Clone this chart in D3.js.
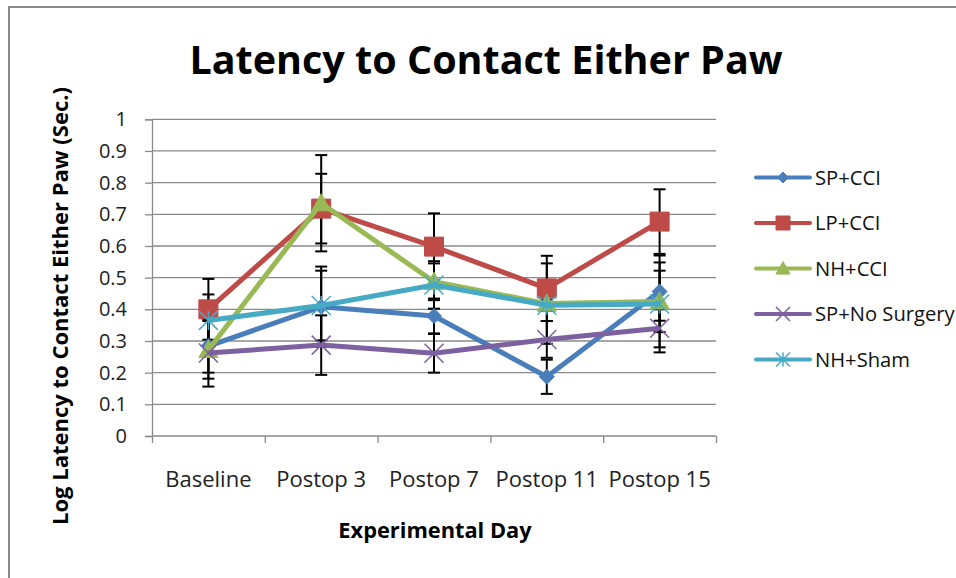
<!DOCTYPE html>
<html>
<head>
<meta charset="utf-8">
<script src="https://cdn.jsdelivr.net/npm/d3@7/dist/d3.min.js"></script>
<style>
  body { margin: 0; background: #fff; }
  svg { display: block; font-family: "Open Sans", Lato, sans-serif; }
</style>
</head>
<body>
<svg id="chart"></svg>
<script>
// Data
const categories = ['Baseline', 'Postop 3', 'Postop 7', 'Postop 11', 'Postop 15'];
const yTicks = [0, 0.1, 0.2, 0.3, 0.4, 0.5, 0.6, 0.7, 0.8, 0.9, 1];

const spCci = [0.284, 0.408, 0.379, 0.187, 0.456];
const spCciErr = [0.084, 0.127, 0.055, 0.054, 0.092];
const lpCci = [0.400, 0.718, 0.598, 0.466, 0.677];
const lpCciErr = [0.096, 0.110, 0.105, 0.103, 0.102];
const nhCci = [0.272, 0.735, 0.487, 0.418, 0.425];
const nhCciErr = [0.091, 0.152, 0.058, 0.127, 0.097];
const spNoSurgery = [0.262, 0.287, 0.261, 0.305, 0.340];
const spNoSurgeryErr = [0.106, 0.094, 0.061, 0.058, 0.060];
const nhSham = [0.365, 0.412, 0.477, 0.413, 0.417];
const nhShamErr = [0.082, 0.110, 0.075, 0.018, 0.153];

const seriesNames = ['SP+CCI', 'LP+CCI', 'NH+CCI', 'SP+No Surgery', 'NH+Sham'];

class LatencyChart {
    constructor(id) {
        this.svg = d3.select('#' + id).attr('width', 956).attr('height', 578);
        this.margin = { left: 152, right: 716, top: 119.3, bottom: 436 };
        this.series = [
            { name: seriesNames[0], values: spCci, err: spCciErr, color: '#4A7EBB', marker: 'diamond' },
            { name: seriesNames[1], values: lpCci, err: lpCciErr, color: '#BE4B48', marker: 'square' },
            { name: seriesNames[2], values: nhCci, err: nhCciErr, color: '#98B954', marker: 'triangle' },
            { name: seriesNames[3], values: spNoSurgery, err: spNoSurgeryErr, color: '#7D60A0', marker: 'x' },
            { name: seriesNames[4], values: nhSham, err: nhShamErr, color: '#46AAC5', marker: 'star' }
        ];
    }

    init() {
        this.x = d3.scaleBand().domain(categories).range([this.margin.left, this.margin.right]);
        this.xEdge = d3.scaleLinear().domain([0, categories.length]).range([this.margin.left, this.margin.right]);
        this.y = d3.scaleLinear().domain([0, 1]).range([this.margin.bottom, this.margin.top]);

        this.drawFrame();
        this.drawAxes();
        this.drawSeries();
        this.drawLegend();
        this.drawTitles();
    }

    drawFrame() {
        this.svg.append('rect')
            .attr('x', 9).attr('y', 7)
            .attr('width', 980).attr('height', 600)
            .attr('fill', 'none')
            .attr('stroke', '#898989')
            .attr('stroke-width', 2);
    }

    drawAxes() {
        const m = this.margin;
        // gridlines
        this.svg.append('g')
            .selectAll('line')
            .data(yTicks.slice(1))
            .enter().append('line')
            .attr('x1', m.left).attr('x2', m.right)
            .attr('y1', d => this.y(d)).attr('y2', d => this.y(d))
            .attr('stroke', '#8a8a8a')
            .attr('stroke-width', 1.3);

        const yAxis = this.svg.append('g')
            .attr('transform', `translate(${m.left},0)`)
            .call(d3.axisLeft(this.y).tickValues(yTicks).tickSize(7).tickPadding(18).tickFormat(d3.format('')));
        yAxis.select('.domain').attr('stroke', '#8a8a8a').attr('stroke-width', 1.3);
        yAxis.selectAll('.tick line').attr('stroke', '#8a8a8a').attr('stroke-width', 1.3);
        yAxis.selectAll('.tick text')
            .attr('font-size', 20).attr('fill', '#222').attr('font-family', '"Open Sans"');

        const xAxis = this.svg.append('g')
            .attr('transform', `translate(0,${m.bottom})`)
            .call(d3.axisBottom(this.xEdge).tickValues(d3.range(categories.length + 1)).tickSize(7).tickFormat(''));
        xAxis.select('.domain').attr('stroke', '#8a8a8a').attr('stroke-width', 1.3).attr('d', `M${m.left},0H${m.right}`);
        xAxis.selectAll('.tick line').attr('stroke', '#8a8a8a').attr('stroke-width', 1.3);

        this.svg.append('g')
            .selectAll('text')
            .data(categories)
            .enter().append('text')
            .attr('x', d => this.x(d) + this.x.bandwidth() / 2)
            .attr('y', 487)
            .attr('text-anchor', 'middle')
            .attr('font-size', 22)
            .attr('fill', '#222')
            .text(d => d);
    }

    markerPath(type, size) {
        const s = size / 2;
        switch (type) {
            case 'diamond': return `M0,${-s}L${s},0L0,${s}L${-s},0Z`;
            case 'square': return `M${-s},${-s}H${s}V${s}H${-s}Z`;
            case 'triangle': return `M0,${-s}L${s},${s * 0.8}H${-s}Z`;
            case 'x': return `M${-s},${-s}L${s},${s}M${s},${-s}L${-s},${s}`;
            case 'star': return `M${-s},${-s}L${s},${s}M${s},${-s}L${-s},${s}M0,${-s}V${s}`;
        }
    }

    drawMarker(g, type, color, size) {
        const open = type === 'x' || type === 'star';
        g.append('path')
            .attr('d', this.markerPath(type, size))
            .attr('fill', open ? 'none' : color)
            .attr('stroke', color)
            .attr('stroke-width', open ? 1.5 : 1)
            .attr('stroke-linejoin', 'miter');
    }

    drawSeries() {
        const cx = (i) => this.x(categories[i]) + this.x.bandwidth() / 2;

        // error bars
        const errG = this.svg.append('g');
        this.series.forEach(s => {
            s.values.forEach((v, i) => {
                const x = cx(i), y1 = this.y(v + s.err[i]), y2 = this.y(v - s.err[i]);
                errG.append('line').attr('x1', x).attr('x2', x).attr('y1', y1).attr('y2', y2)
                    .attr('stroke', '#000').attr('stroke-width', 2);
                [y1, y2].forEach(yy => {
                    errG.append('line').attr('x1', x - 6).attr('x2', x + 6).attr('y1', yy).attr('y2', yy)
                        .attr('stroke', '#000').attr('stroke-width', 2);
                });
            });
        });

        const line = d3.line().x((d, i) => cx(i)).y(d => this.y(d));
        this.series.forEach(s => {
            const g = this.svg.append('g');
            g.append('path')
                .datum(s.values)
                .attr('d', line)
                .attr('fill', 'none')
                .attr('stroke', s.color)
                .attr('stroke-width', 5)
                .attr('stroke-linejoin', 'round');
            s.values.forEach((v, i) => {
                const mg = g.append('g').attr('transform', `translate(${cx(i)},${this.y(v)})`);
                const size = s.marker === 'diamond' ? 15 : 19;
                this.drawMarker(mg, s.marker, s.color, size);
            });
        });
    }

    drawLegend() {
        const lg = this.svg.append('g');
        this.series.forEach((s, i) => {
            const yy = 177.5 + i * 45.5;
            lg.append('line')
                .attr('x1', 756).attr('x2', 810).attr('y1', yy).attr('y2', yy)
                .attr('stroke', s.color).attr('stroke-width', 4)
                .attr('stroke-linecap', 'round');
            const mg = lg.append('g').attr('transform', `translate(783,${yy})`);
            this.drawMarker(mg, s.marker, s.color, s.marker === 'diamond' ? 11 : 14);
            lg.append('text')
                .attr('x', 815).attr('y', yy + 7)
                .attr('font-size', 20.2)
                .attr('fill', '#111')
                .text(s.name);
        });
    }

    drawTitles() {
        this.svg.append('text')
            .attr('x', 486).attr('y', 74)
            .attr('text-anchor', 'middle')
            .attr('font-size', 39.5)
            .attr('font-weight', 'bold')
            .attr('fill', '#000')
            .text('Latency to Contact Either Paw');

        this.svg.append('text')
            .attr('x', 435).attr('y', 538)
            .attr('text-anchor', 'middle')
            .attr('font-size', 21.8)
            .attr('font-weight', 'bold')
            .attr('fill', '#000')
            .text('Experimental Day');

        this.svg.append('text')
            .attr('transform', 'translate(68,306) rotate(-90)')
            .attr('text-anchor', 'middle')
            .attr('font-size', 22)
            .attr('font-weight', 'bold')
            .attr('fill', '#000')
            .text('Log Latency to Contact  Either Paw (Sec.)');
    }
}

new LatencyChart('chart').init();
</script>
</body>
</html>
